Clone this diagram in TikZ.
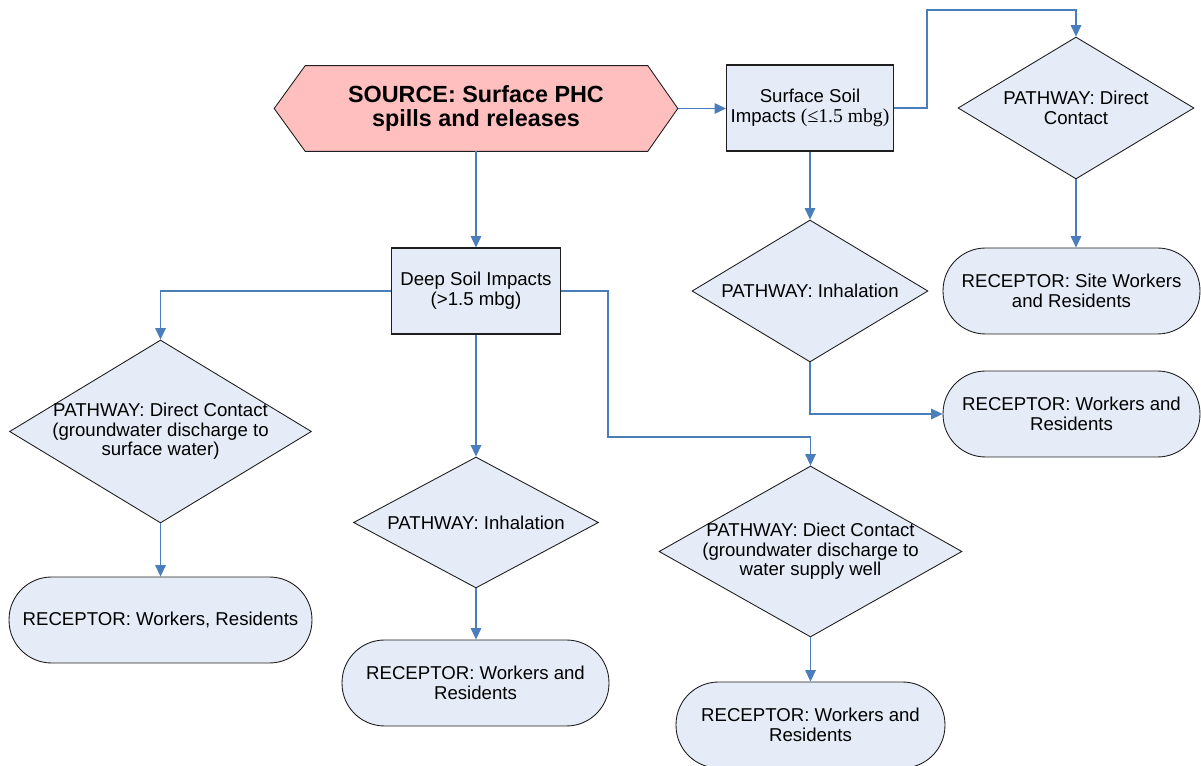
\documentclass[tikz,border=0pt]{standalone}
\usepackage{fontspec}
\setmainfont{Liberation Sans}
\newfontfamily\serifx{Liberation Serif}
\usetikzlibrary{shapes.geometric,arrows.meta,backgrounds}
\definecolor{boxfill}{RGB}{230,236,247}
\definecolor{srcfill}{RGB}{255,191,191}
\definecolor{conn}{RGB}{74,126,187}
\definecolor{edge}{RGB}{30,30,30}
\begin{document}
\begin{tikzpicture}[x=0.02cm,y=-0.02cm,
  every node/.style={font=\fontsize{10.6}{11.2}\selectfont, align=center, text=black},
  box/.style={rectangle, draw=edge, fill=boxfill, line width=0.6pt, minimum height=1.72cm, inner sep=0pt},
  diam/.style={diamond, draw=edge, fill=boxfill, line width=0.5pt, inner sep=0pt},
  recep/.style={rectangle, rounded corners=0.85cm, draw=edge, fill=boxfill, line width=0.5pt, minimum height=1.72cm, inner sep=0pt},
  txt/.style={inner sep=0pt},
  arr/.style={draw=conn, line width=0.6pt, -{Triangle[length=6.5pt,width=6pt]}}
]
\useasboundingbox (0,0) rectangle (1201,766);

% source
\node[minimum width=8.06cm, minimum height=1.7cm, inner sep=0pt,
      font=\bfseries\fontsize{13.3}{13.2}\selectfont] (src) at (476,108.5)
      {SOURCE: Surface PHC\\spills and releases};
\begin{scope}[on background layer]
\draw[draw=edge, fill=srcfill, line width=0.5pt]
  (src.west) -- ([xshift=0.62cm]src.north west) -- ([xshift=-0.6cm]src.north east)
  -- (src.east) -- ([xshift=-0.6cm]src.south east) -- ([xshift=0.62cm]src.south west) -- cycle;
\end{scope}

% boxes
\node[box, minimum width=3.34cm] (ssoil) at (810,108) {Surface Soil\\Impacts {\serifx\fontsize{11.2}{11.2}\selectfont(≤1.5 mbg)}};
\node[box, minimum width=3.38cm] (dsoil) at (476,291) {Deep Soil Impacts\\(>1.5 mbg)};

% diamonds
\node[diam, minimum width=4.72cm, minimum height=2.84cm] (d1) at (1076,108) {};
\node[txt] (d1t) at (d1) {PATHWAY: Direct\\Contact};
\node[diam, minimum width=4.72cm, minimum height=2.84cm] (d2) at (810,291) {};
\node[txt] (d2t) at (d2) {PATHWAY: Inhalation};
\node[diam, minimum width=6.04cm, minimum height=3.66cm] (d3) at (160.5,431.5) {};
\node[txt] (d3t) at (d3) {PATHWAY: Direct Contact\\(groundwater discharge to\\surface water)};
\node[diam, minimum width=4.9cm, minimum height=2.62cm] (d4) at (476,522.5) {};
\node[txt] (d4t) at (d4) {PATHWAY: Inhalation};
\node[diam, minimum width=6.06cm, minimum height=3.42cm] (d5) at (810.5,551.5) {};
\node[txt] (d5t) at (d5) {PATHWAY: Diect Contact\\(groundwater discharge to\\water supply well};

% receptors
\node[recep, minimum width=5.14cm] (r1) at (1071.5,291) {RECEPTOR: Site Workers\\and Residents};
\node[recep, minimum width=5.14cm] (r2) at (1071.5,414) {RECEPTOR: Workers and\\Residents};
\node[recep, minimum width=6.06cm] (r3) at (160.5,620) {RECEPTOR: Workers, Residents};
\node[recep, minimum width=5.34cm] (r4) at (475.5,683) {RECEPTOR: Workers and\\Residents};
\node[recep, minimum width=5.38cm] (r5) at (810.5,725) {RECEPTOR: Workers and\\Residents};

% bend points
\coordinate (k1) at (927,10);
\coordinate (k2) at (608,437);

% connectors
\draw[arr] (src.east) -- (src.east -| ssoil.west);
\draw[arr] (ssoil.east) -| (k1) -| (d1.north);
\draw[arr] (d1.south) -- (d1.south |- r1.north);
\draw[arr] (ssoil.south) -- (d2.north);
\draw[arr] (d2.south) |- (r2.west);
\draw[arr] (src.south) -- (dsoil.north);
\draw[arr] (dsoil.west) -| (d3.north);
\draw[arr] (dsoil.south) -- (d4.north);
\draw[arr] (dsoil.east) -| (k2) -| (d5.north);
\draw[arr] (d3.south) -- (r3.north);
\draw[arr] (d4.south) -- (d4.south |- r4.north);
\draw[arr] (d5.south) -- (r5.north);
\end{tikzpicture}
\end{document}
